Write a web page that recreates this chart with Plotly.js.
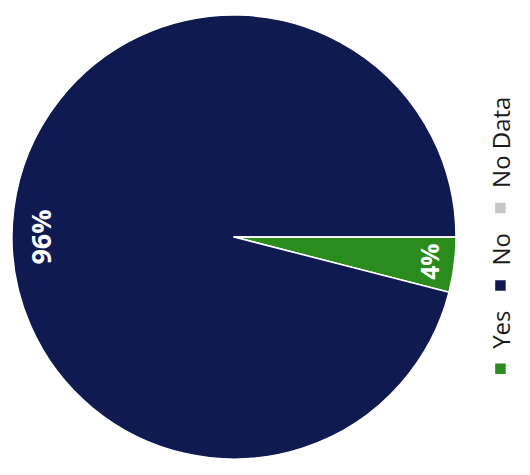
<!DOCTYPE html>
<html>
<head>
<meta charset="utf-8">
<script src="https://cdn.plot.ly/plotly-3.0.1.min.js"></script>
<style>
html,body{margin:0;padding:0;background:#fff;}
#wrap{position:absolute;left:0;top:0;width:530px;height:475px;overflow:hidden;background:#fff;}
#plot{position:absolute;left:0;top:0;width:475px;height:530px;transform-origin:0 0;transform:translate(0px,475px) rotate(-90deg);}
</style>
</head>
<body>
<div id="wrap"><div id="plot"></div></div>
<script>
const categories = ["Yes", "No", "No Data"];
const values = [4, 96, 0];
const sliceColors = ["#2a8c1c", "#0e1a50", "#c6c6c6"];

const base = {
  type: 'pie',
  labels: categories,
  values: values,
  sort: false,
  direction: 'clockwise',
  rotation: 180,
  hoverinfo: 'none'
};

const pieTrace = Object.assign({}, base, {
  marker: {colors: sliceColors, line: {color: '#ffffff', width: 1.5}},
  textinfo: 'none',
  showlegend: true
});

const labelTrace = Object.assign({}, base, {
  hole: 0.76,
  marker: {colors: ['rgba(0,0,0,0)', 'rgba(0,0,0,0)', 'rgba(0,0,0,0)'], line: {width: 0}},
  texttemplate: '%{percent:.0%}',
  textposition: 'inside',
  insidetextorientation: 'horizontal',
  textfont: {family: 'Open Sans, sans-serif', size: 27, color: '#ffffff', weight: 'bold'},
  showlegend: false
});

Plotly.newPlot('plot', [pieTrace, labelTrace], {
  width: 475,
  height: 530,
  margin: {l: 8, r: 7, t: 12, b: 58},
  paper_bgcolor: '#ffffff',
  showlegend: true,
  legend: {
    orientation: 'h',
    x: 0.17, xanchor: 'left',
    y: -0.101, yanchor: 'middle',
    font: {family: 'Open Sans, sans-serif', size: 24, color: '#1a1a1a'},
    bgcolor: 'rgba(0,0,0,0)'
  }
}, {displayModeBar: false, staticPlot: true});
</script>
</body>
</html>
